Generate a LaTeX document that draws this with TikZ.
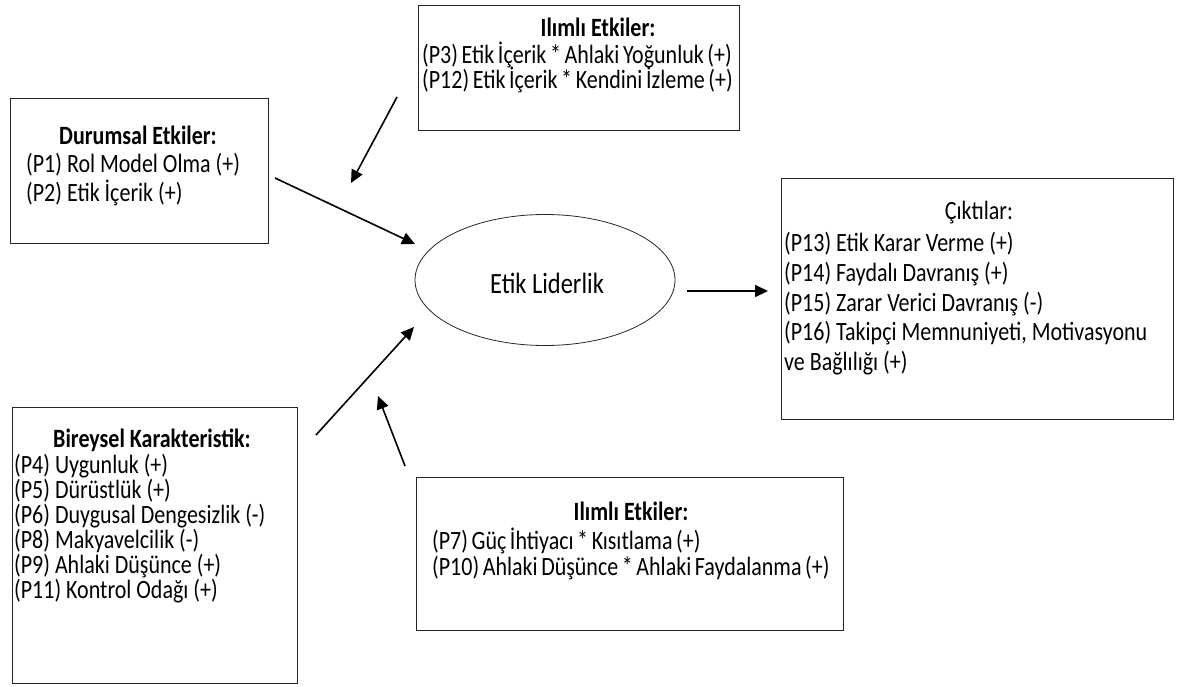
\documentclass[tikz,border=0pt]{standalone}
\usepackage{fontspec}
\setmainfont{Carlito}[FakeStretch=0.833]
\usetikzlibrary{arrows.meta,shapes.geometric}
\newcommand\tightsp{\spaceskip=3.6pt plus 1pt minus 1pt\relax}
\begin{document}
\begin{tikzpicture}[x=1pt,y=-1pt,
  box/.style={draw=black!85,line width=1.3pt,inner sep=0pt,anchor=north west},
  txt/.style={inner sep=0pt,anchor=west,font=\fontsize{26.4}{30}\selectfont},
  ttl/.style={inner sep=0pt,anchor=center,font=\fontsize{26.4}{30}\selectfont\bfseries},
  arr/.style={line width=1.6pt,-{Triangle[length=13pt,width=12pt]}}]
\useasboundingbox (0,0) rectangle (1185,687);
% boxes
\node[box,minimum width=258pt,minimum height=145pt] (dur) at (10,98) {};
\node[box,minimum width=321pt,minimum height=125pt] (ilt) at (418,5) {};
\node[box,minimum width=392pt,minimum height=241pt] (cik) at (781,178) {};
\node[box,minimum width=285pt,minimum height=276pt] (bir) at (12,407) {};
\node[box,minimum width=427pt,minimum height=153pt] (ilb) at (416,477) {};
\node[draw=black!85,line width=0.8pt,ellipse,minimum width=260pt,minimum height=131pt,inner sep=0pt] (el) at (545,280) {};
\node[txt,anchor=center,font=\fontsize{29.4}{33}\selectfont] (elt) at (547,283) {Etik Liderlik};
% Durumsal
\node[ttl] (durT) at (138,135) {Durumsal Etkiler:};
\node[txt] (d1) at (26,165) {(P1) Rol Model Olma (+)};
\node[txt] (d2) at (26,193) {(P2) Etik İçerik (+)};
% Ilimli top
\node[ttl] (iltT) at (598,27) {Ilımlı Etkiler:};
\node[txt] (t1) at (422,55) {\tightsp (P3) Etik İçerik * Ahlaki Yoğunluk (+)};
\node[txt] (t2) at (422,80) {\tightsp (P12) Etik İçerik * Kendini İzleme (+)};
% Ciktilar
\node[txt,anchor=center] (cikT) at (979,213) {Çıktılar:};
\node[txt] (c1) at (784,244) {(P13) Etik Karar Verme (+)};
\node[txt] (c2) at (784,274) {(P14) Faydalı Davranış (+)};
\node[txt] (c3) at (784,304) {(P15) Zarar Verici Davranış (-)};
\node[txt] (c4) at (784,333) {(P16) Takipçi Memnuniyeti, Motivasyonu};
\node[txt] (c5) at (784,363) {ve Bağlılığı (+)};
% Bireysel
\node[ttl] (birT) at (152,440) {Bireysel Karakteristik:};
\node[txt] (b1) at (14,466) {(P4) Uygunluk (+)};
\node[txt] (b2) at (14,491) {(P5) Dürüstlük (+)};
\node[txt] (b3) at (14,516) {(P6) Duygusal Dengesizlik (-)};
\node[txt] (b4) at (14,541) {(P8) Makyavelcilik (-)};
\node[txt] (b5) at (14,566) {(P9) Ahlaki Düşünce (+)};
\node[txt] (b6) at (14,591) {(P11) Kontrol Odağı (+)};
% Ilimli bottom
\node[ttl] (ilbT) at (631,511) {Ilımlı Etkiler:};
\node[txt] (u1) at (432,541) {\tightsp (P7) Güç İhtiyacı * Kısıtlama (+)};
\node[txt] (u2) at (432,568) {\tightsp (P10) Ahlaki Düşünce * Ahlaki Faydalanma (+)};
% arrow coordinates
\coordinate (a1s) at (275,178); \coordinate (a1e) at (415,244);
\coordinate (a2s) at (397,97);  \coordinate (a2e) at (351,183);
\coordinate (a3s) at (687,291); \coordinate (a3e) at (768,291);
\coordinate (a4s) at (316,435); \coordinate (a4e) at (414,327);
\coordinate (a5s) at (405,466); \coordinate (a5e) at (378,396);
\draw[arr] (a1s) -- (a1e);
\draw[arr] (a2s) -- (a2e);
\draw[arr] (a3s) -- (a3e);
\draw[arr] (a4s) -- (a4e);
\draw[arr] (a5s) -- (a5e);
\end{tikzpicture}
\end{document}
